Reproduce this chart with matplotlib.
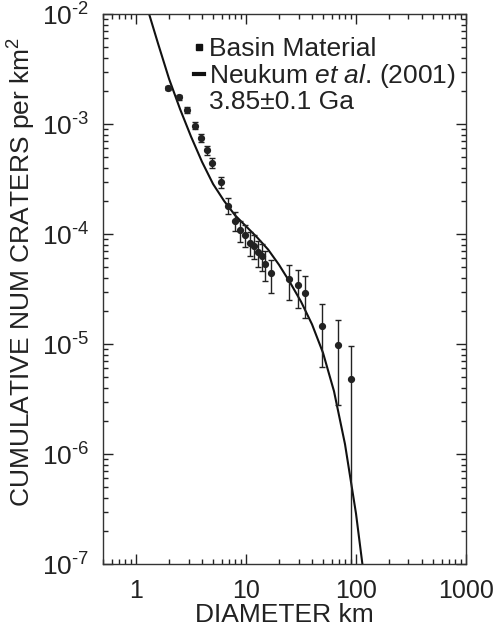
import matplotlib
matplotlib.use("Agg")
import matplotlib.pyplot as plt
from matplotlib.lines import Line2D
from matplotlib.ticker import LogLocator, FixedLocator, NullFormatter

plt.rcParams["font.family"] = ["Liberation Sans", "DejaVu Sans"]
plt.rcParams["mathtext.fontset"] = "custom"
plt.rcParams["mathtext.rm"] = "Liberation Sans"
plt.rcParams["mathtext.it"] = "Liberation Sans:italic"

# basin material cumulative counts
diam = [1.95, 2.46, 2.93, 3.44, 3.93, 4.42, 4.94, 5.93, 6.9, 7.89, 8.87, 9.86,
        10.8, 11.8, 12.9, 13.9, 14.9, 16.8, 24.6, 29.7, 34.6, 49.4, 69.0, 89.5]
cum = [2.13e-3, 1.75e-3, 1.34e-3, 9.66e-4, 7.5e-4, 5.77e-4, 4.45e-4, 2.97e-4,
       1.81e-4, 1.32e-4, 1.08e-4, 9.8e-5, 8.34e-5, 7.84e-5, 6.86e-5, 6.35e-5,
       5.37e-5, 4.39e-5, 3.9e-5, 3.41e-5, 2.93e-5, 1.47e-5, 9.7e-6, 4.84e-6]
err_hi = [1.0e-4, 9.2e-5, 8.0e-5, 6.8e-5, 6.0e-5, 5.3e-5, 4.6e-5, 3.6e-5,
          3.0e-5, 2.5e-5, 2.3e-5, 2.2e-5, 2.0e-5, 1.95e-5, 1.83e-5, 1.76e-5,
          1.62e-5, 1.46e-5, 1.38e-5, 1.29e-5, 1.2e-5, 8.5e-6, 6.9e-6, 4.84e-6]
err_lo = [1.0e-4, 9.2e-5, 8.0e-5, 6.8e-5, 6.0e-5, 5.3e-5, 4.6e-5, 3.6e-5,
          3.0e-5, 2.5e-5, 2.3e-5, 2.2e-5, 2.0e-5, 1.95e-5, 1.83e-5, 1.76e-5,
          1.62e-5, 1.46e-5, 1.38e-5, 1.29e-5, 1.2e-5, 8.5e-6, 6.9e-6, 4.8399e-6]

# Neukum et al. (2001) production function, 3.85 Ga
neukum_d = [1.259, 1.585, 1.995, 2.512, 3.162, 3.981, 5.012, 6.310, 7.943,
            10.0, 12.59, 15.85, 19.95, 25.12, 31.62, 39.81, 50.12, 63.10,
            79.43, 100.0, 125.9]
neukum_n = [1.148e-2, 5.37e-3, 2.57e-3, 1.365e-3, 7.67e-4, 4.52e-4, 2.85e-4,
            2.0e-4, 1.48e-4, 1.175e-4, 9.33e-5, 7.24e-5, 5.25e-5, 3.63e-5,
            2.43e-5, 1.51e-5, 8.32e-6, 3.72e-6, 1.23e-6, 2.88e-7, 4.68e-8]

x_ticks = [1, 10, 100, 1000]
y_exps = [7, 6, 5, 4, 3, 2]

fig = plt.figure(figsize=(5.01, 6.28), dpi=100)
ax = fig.add_axes([0.2056, 0.1019, 0.7244, 0.8758])

ax.plot(neukum_d, neukum_n, color="#111111", lw=1.5)
ax.errorbar(diam, cum, yerr=[err_lo, err_hi], fmt="o", color="#222222",
            ms=4.2, elinewidth=1, capsize=2.2, capthick=1)

ax.set_xscale("log")
ax.set_yscale("log")
ax.set_xlim(0.5, 1000)
ax.set_ylim(1e-7, 1e-2)

ax.xaxis.set_major_locator(FixedLocator(x_ticks))
ax.set_xticklabels([str(t) for t in x_ticks])
ax.xaxis.set_minor_locator(LogLocator(base=10, subs=range(2, 10), numticks=20))
ax.xaxis.set_minor_formatter(NullFormatter())
ax.yaxis.set_major_locator(FixedLocator([10.0 ** -k for k in y_exps]))
ax.set_yticklabels([r"10$^{\text{-}%d}$" % k for k in y_exps])
ax.yaxis.set_minor_locator(LogLocator(base=10, subs=range(2, 10), numticks=20))
ax.yaxis.set_minor_formatter(NullFormatter())

ax.tick_params(which="both", direction="in", top=True, right=True,
               labelsize=18, colors="#222222", width=1)
ax.tick_params(which="major", length=7, pad=11)
ax.tick_params(which="minor", length=3.5)
ax.tick_params(axis="y", which="major", pad=10, labelsize=19)
for s in ax.spines.values():
    s.set_linewidth(1)
    s.set_color("#333333")

ax.set_xlabel("DIAMETER km", fontsize=19, color="#222222", labelpad=0)
ax.set_ylabel("CUMULATIVE NUM CRATERS per km$^2$", fontsize=19,
              color="#222222")
ax.yaxis.set_label_coords(-0.179, 0.531)

handles = [Line2D([], [], marker="s", ms=4, ls="none", color="#111111"),
           Line2D([], [], lw=3, color="#111111")]
leg = ax.legend(handles, ["Basin Material", r"Neukum $\mathit{et\ al}$. (2001)"],
                loc="upper left", bbox_to_anchor=(0.2507, 0.958), frameon=False,
                fontsize=19, handlelength=0.38, handletextpad=0.19,
                borderpad=0, borderaxespad=0, labelspacing=0.03)
for t in leg.get_texts():
    t.set_color("#222222")
ax.text(0.292, 0.840, "3.85\u00b10.1 Ga", transform=ax.transAxes,
        fontsize=19, color="#222222", va="center", ha="left")

fig.savefig("out.png", dpi=100)
